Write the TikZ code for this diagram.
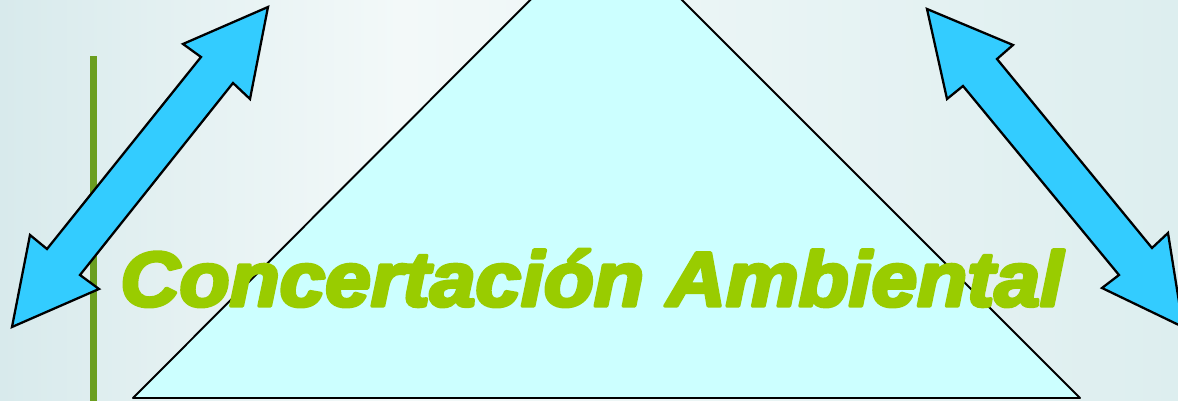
\documentclass[tikz,border=0pt]{standalone}
\usepackage{fontspec}
\newfontfamily\heavyfont[FakeBold=4.5]{Liberation Sans Bold Italic}
\definecolor{arrowblue}{HTML}{33CCFF}
\definecolor{paleCyan}{HTML}{CCFFFF}
\definecolor{titleGreen}{HTML}{99CC00}
\definecolor{barGreen}{HTML}{6B9E1F}
\definecolor{bgEdge}{HTML}{D8EAEC}
\definecolor{bgMid}{HTML}{F3F9F9}
\definecolor{bgRight}{HTML}{DDEEEF}
\tikzset{
  bigarrow/.style={fill=arrowblue, draw=black, line width=1.3pt, line join=miter},
  title/.style={font=\heavyfont\fontsize{44}{48}\selectfont, text=titleGreen, inner sep=0pt, xscale=1.06}
}
\begin{document}
\begin{tikzpicture}[x=0.02cm, y=-0.02cm, line join=round]
  \useasboundingbox (0,0) rectangle (1178,401);
  \shade[left color=bgEdge, right color=bgMid] (0,0) rectangle (400,401);
  \shade[left color=bgMid, right color=bgRight] (400,0) rectangle (1178,401);
  \fill[barGreen] (90,56) rectangle (97,401);
  \begin{scope}
    \clip (0,0) rectangle (1178,401);
    \draw[fill=paleCyan, line width=1.1pt] (133,398) -- (606,-76) -- (1080,398) -- cycle;
  \end{scope}
  \draw[bigarrow] (268,7) -- (183,44) -- (201,57) -- (47,249) -- (30,235) -- (12,327)
    -- (99,289) -- (80,275) -- (233,83) -- (250,99) -- cycle;
  \node[title, anchor=base west] (caption) at (120,306) {Concertación Ambiental};
  \draw[bigarrow] (927,9) -- (1013,45) -- (997,59) -- (1152,248) -- (1168,233) -- (1183,327)
    -- (1102,288) -- (1119,275) -- (963,86) -- (947,99) -- cycle;
\end{tikzpicture}
\end{document}
